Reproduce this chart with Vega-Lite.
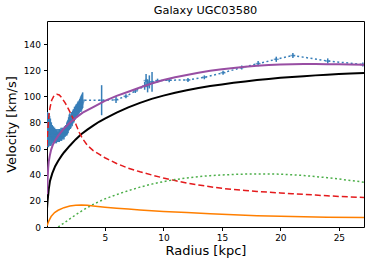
{
  "$schema": "https://vega.github.io/schema/vega-lite/v6.json",
  "autosize": {"type": "none"},
  "width": 317,
  "height": 206,
  "padding": {"left": 47, "top": 21, "right": 10, "bottom": 39},
  "background": "white",
  "title": {"text": "Galaxy UGC03580", "font": "DejaVu Sans", "fontSize": 11.3, "fontWeight": "normal", "color": "#000", "offset": 5},
  "datasets": {
    "obs": [
      {"r": 0.06, "v": 74, "e": 13}, {"r": 0.09, "v": 79, "e": 9}, {"r": 0.12, "v": 76, "e": 11}, {"r": 0.15, "v": 80, "e": 7},
      {"r": 0.18, "v": 73, "e": 12}, {"r": 0.21, "v": 78, "e": 9}, {"r": 0.24, "v": 74, "e": 11}, {"r": 0.27, "v": 77, "e": 8},
      {"r": 0.3, "v": 72, "e": 10}, {"r": 0.34, "v": 75, "e": 8}, {"r": 0.38, "v": 71, "e": 9}, {"r": 0.42, "v": 73, "e": 7},
      {"r": 0.46, "v": 70, "e": 7}, {"r": 0.5, "v": 72, "e": 6}, {"r": 0.55, "v": 70, "e": 6}, {"r": 0.6, "v": 71, "e": 6},
      {"r": 0.65, "v": 69, "e": 5}, {"r": 0.7, "v": 71, "e": 5}, {"r": 0.75, "v": 69, "e": 5}, {"r": 0.8, "v": 70, "e": 5},
      {"r": 0.85, "v": 69, "e": 5}, {"r": 0.9, "v": 70, "e": 5}, {"r": 0.95, "v": 69, "e": 4}, {"r": 1.0, "v": 70, "e": 5},
      {"r": 1.05, "v": 69, "e": 4}, {"r": 1.1, "v": 70, "e": 5}, {"r": 1.15, "v": 71, "e": 4}, {"r": 1.2, "v": 70, "e": 4},
      {"r": 1.25, "v": 71, "e": 5}, {"r": 1.3, "v": 70, "e": 4}, {"r": 1.35, "v": 72, "e": 4}, {"r": 1.4, "v": 71, "e": 4},
      {"r": 1.45, "v": 72, "e": 4}, {"r": 1.5, "v": 71, "e": 4}, {"r": 1.55, "v": 73, "e": 4}, {"r": 1.6, "v": 73, "e": 4},
      {"r": 1.65, "v": 74, "e": 4}, {"r": 1.7, "v": 74, "e": 4}, {"r": 1.75, "v": 75, "e": 5}, {"r": 1.8, "v": 76, "e": 5},
      {"r": 1.85, "v": 77, "e": 5}, {"r": 1.9, "v": 79, "e": 5}, {"r": 1.95, "v": 80, "e": 6}, {"r": 2.0, "v": 81, "e": 6},
      {"r": 2.05, "v": 80, "e": 5}, {"r": 2.1, "v": 81, "e": 5}, {"r": 2.15, "v": 83, "e": 5}, {"r": 2.2, "v": 82, "e": 5},
      {"r": 2.25, "v": 84, "e": 5}, {"r": 2.3, "v": 85, "e": 5}, {"r": 2.35, "v": 85, "e": 5}, {"r": 2.4, "v": 87, "e": 5},
      {"r": 2.45, "v": 87, "e": 5}, {"r": 2.5, "v": 88, "e": 5}, {"r": 2.55, "v": 89, "e": 5}, {"r": 2.6, "v": 89, "e": 5},
      {"r": 2.65, "v": 90, "e": 5}, {"r": 2.7, "v": 91, "e": 5}, {"r": 2.75, "v": 91, "e": 5}, {"r": 2.8, "v": 92, "e": 5},
      {"r": 2.85, "v": 93, "e": 5}, {"r": 2.9, "v": 94, "e": 5}, {"r": 2.95, "v": 94, "e": 6}, {"r": 3.0, "v": 95, "e": 6},
      {"r": 3.05, "v": 96, "e": 6}, {"r": 3.1, "v": 97, "e": 6},
      {"r": 4.72, "v": 97, "e": 11.5}, {"r": 5.95, "v": 97.3, "e": 2.5}, {"r": 6.8, "v": 100, "e": 1.5},
      {"r": 7.6, "v": 104, "e": 1.5}, {"r": 8.4, "v": 108, "e": 3}, {"r": 8.52, "v": 112, "e": 5},
      {"r": 8.65, "v": 108, "e": 5}, {"r": 8.8, "v": 111, "e": 5}, {"r": 9.03, "v": 111, "e": 7.5},
      {"r": 9.5, "v": 112, "e": 1.5}, {"r": 10.5, "v": 112.3, "e": 1.5}, {"r": 12.1, "v": 112.5, "e": 1.5},
      {"r": 13.5, "v": 114.5, "e": 1.5}, {"r": 15.1, "v": 118, "e": 1.5}, {"r": 16.7, "v": 122, "e": 1.5},
      {"r": 18.1, "v": 125, "e": 2}, {"r": 19.65, "v": 128.3, "e": 2}, {"r": 21.07, "v": 131.2, "e": 2},
      {"r": 24.05, "v": 127, "e": 2}, {"r": 27.05, "v": 124.3, "e": 1.5}
    ],
    "halo": [
      {"r": 0.05, "v": 14}, {"r": 0.1, "v": 20}, {"r": 0.2, "v": 29}, {"r": 0.3, "v": 35}, {"r": 0.5, "v": 41},
      {"r": 0.75, "v": 46.5}, {"r": 1.0, "v": 50.5}, {"r": 1.3, "v": 54.6}, {"r": 1.5, "v": 57}, {"r": 2.0, "v": 62.2},
      {"r": 2.5, "v": 67}, {"r": 3.0, "v": 71.2}, {"r": 3.5, "v": 74.5}, {"r": 4.0, "v": 77.5}, {"r": 4.5, "v": 80.5},
      {"r": 5, "v": 83}, {"r": 6, "v": 87.5}, {"r": 7, "v": 91.5}, {"r": 8, "v": 95}, {"r": 9, "v": 98},
      {"r": 10, "v": 100.5}, {"r": 11, "v": 102.7}, {"r": 12, "v": 104.6}, {"r": 13, "v": 106.3}, {"r": 14, "v": 107.8},
      {"r": 15, "v": 109.1}, {"r": 16, "v": 110.3}, {"r": 17, "v": 111.4}, {"r": 18, "v": 112.4}, {"r": 19, "v": 113.3},
      {"r": 20, "v": 114.1}, {"r": 21, "v": 114.8}, {"r": 22, "v": 115.4}, {"r": 23, "v": 116}, {"r": 24, "v": 116.5},
      {"r": 25, "v": 117}, {"r": 26, "v": 117.4}, {"r": 27.15, "v": 117.8}
    ],
    "bulge": [
      {"r": 0.05, "v": 62}, {"r": 0.1, "v": 72}, {"r": 0.2, "v": 84}, {"r": 0.3, "v": 91}, {"r": 0.45, "v": 97},
      {"r": 0.65, "v": 100.5}, {"r": 0.9, "v": 101.5}, {"r": 1.1, "v": 101}, {"r": 1.3, "v": 99}, {"r": 1.6, "v": 95},
      {"r": 1.9, "v": 90}, {"r": 2.2, "v": 84.5}, {"r": 2.5, "v": 79}, {"r": 2.8, "v": 72.5}, {"r": 3.1, "v": 67.5},
      {"r": 3.5, "v": 62.5}, {"r": 4, "v": 58.5}, {"r": 4.5, "v": 55.7}, {"r": 5, "v": 53}, {"r": 6, "v": 48.6},
      {"r": 7, "v": 45}, {"r": 8, "v": 42.2}, {"r": 9, "v": 39.8}, {"r": 10, "v": 37.5}, {"r": 11, "v": 35.5},
      {"r": 12, "v": 33.6}, {"r": 13, "v": 32.2}, {"r": 14, "v": 30.8}, {"r": 15, "v": 29.6}, {"r": 16, "v": 28.7},
      {"r": 17, "v": 27.9}, {"r": 18, "v": 27.2}, {"r": 19, "v": 26.6}, {"r": 20, "v": 26.1}, {"r": 21, "v": 25.5},
      {"r": 22, "v": 25}, {"r": 23, "v": 24.4}, {"r": 24, "v": 23.9}, {"r": 25, "v": 23.4}, {"r": 26, "v": 23},
      {"r": 27.15, "v": 22.6}
    ],
    "disk": [
      {"r": 1.0, "v": 0}, {"r": 1.5, "v": 3}, {"r": 2, "v": 6.2}, {"r": 2.5, "v": 9.3}, {"r": 3, "v": 12.2},
      {"r": 3.5, "v": 14.8}, {"r": 4, "v": 17.3}, {"r": 4.5, "v": 19.5}, {"r": 5, "v": 21.5}, {"r": 6, "v": 24.8},
      {"r": 7, "v": 27.8}, {"r": 8, "v": 30.5}, {"r": 9, "v": 32.8}, {"r": 10, "v": 34.7}, {"r": 11, "v": 36.3},
      {"r": 12, "v": 37.5}, {"r": 13, "v": 38.5}, {"r": 14, "v": 39.3}, {"r": 15, "v": 39.8}, {"r": 16, "v": 40.2},
      {"r": 17, "v": 40.5}, {"r": 18, "v": 40.6}, {"r": 19, "v": 40.6}, {"r": 20, "v": 40.4}, {"r": 21, "v": 40},
      {"r": 22, "v": 39.4}, {"r": 23, "v": 38.6}, {"r": 24, "v": 37.7}, {"r": 25, "v": 36.7}, {"r": 26, "v": 35.6},
      {"r": 27.15, "v": 34.3}
    ],
    "gas": [
      {"r": 0.05, "v": 1}, {"r": 0.2, "v": 4.5}, {"r": 0.4, "v": 8}, {"r": 0.7, "v": 11}, {"r": 1.0, "v": 12.8},
      {"r": 1.5, "v": 14.8}, {"r": 2.0, "v": 16}, {"r": 2.5, "v": 16.6}, {"r": 3.0, "v": 16.8}, {"r": 3.5, "v": 16.6},
      {"r": 4, "v": 16.1}, {"r": 5, "v": 15.2}, {"r": 6, "v": 14.4}, {"r": 7, "v": 13.7}, {"r": 8, "v": 13},
      {"r": 9, "v": 12.4}, {"r": 10, "v": 11.9}, {"r": 12, "v": 11}, {"r": 14, "v": 10.1}, {"r": 16, "v": 9.4},
      {"r": 18, "v": 8.7}, {"r": 20, "v": 8.2}, {"r": 22, "v": 7.8}, {"r": 24, "v": 7.5}, {"r": 27.15, "v": 7.2}
    ],
    "total": [
      {"r": 0.05, "v": 25}, {"r": 0.1, "v": 36}, {"r": 0.15, "v": 45}, {"r": 0.2, "v": 50}, {"r": 0.29, "v": 54.6},
      {"r": 0.4, "v": 59}, {"r": 0.57, "v": 63.4}, {"r": 0.8, "v": 67}, {"r": 1.0, "v": 69.7}, {"r": 1.43, "v": 74.7},
      {"r": 2.0, "v": 79.7}, {"r": 2.5, "v": 83.5}, {"r": 3.1, "v": 87.5}, {"r": 4, "v": 91.8}, {"r": 5, "v": 96.5},
      {"r": 6, "v": 100.3}, {"r": 7, "v": 103.5}, {"r": 8, "v": 106.7}, {"r": 9, "v": 109.8}, {"r": 10, "v": 112.4},
      {"r": 11, "v": 114.5}, {"r": 12, "v": 116.3}, {"r": 13, "v": 118}, {"r": 14, "v": 119.5}, {"r": 15, "v": 120.6},
      {"r": 16, "v": 121.7}, {"r": 17, "v": 122.6}, {"r": 18, "v": 123.3}, {"r": 19, "v": 123.9}, {"r": 20, "v": 124.3},
      {"r": 21, "v": 124.6}, {"r": 22, "v": 124.7}, {"r": 23, "v": 124.7}, {"r": 24, "v": 124.6}, {"r": 25, "v": 124.5},
      {"r": 26, "v": 124.4}, {"r": 27.15, "v": 124.2}
    ]
  },
  "encoding": {
    "x": {"field": "r", "type": "quantitative", "scale": {"domain": [0.05, 27.15], "nice": false, "zero": false},
      "axis": {"values": [5, 10, 15, 20, 25], "title": "Radius [kpc]", "titlePadding": 2}},
    "y": {"field": "v", "type": "quantitative", "scale": {"domain": [0, 157.6], "nice": false},
      "axis": {"values": [0, 20, 40, 60, 80, 100, 120, 140], "title": "Velocity [km/s]", "titlePadding": 5}}
  },
  "layer": [
    {"data": {"name": "obs"}, "mark": {"type": "line", "color": "#377eb8", "strokeWidth": 1.5, "strokeDash": [2, 2.5], "clip": true}},
    {"data": {"name": "obs"}, "mark": {"type": "errorbar", "color": "#377eb8", "thickness": 1.5, "clip": true},
      "encoding": {"yError": {"field": "e"}}},
    {"data": {"name": "obs"}, "mark": {"type": "tick", "orient": "horizontal", "color": "#377eb8", "size": 5, "thickness": 1.5, "clip": true}},
    {"data": {"name": "halo"}, "mark": {"type": "line", "color": "#000000", "strokeWidth": 2, "clip": true}},
    {"data": {"name": "bulge"}, "mark": {"type": "line", "color": "#e41a1c", "strokeWidth": 1.5, "strokeDash": [6, 3], "clip": true}},
    {"data": {"name": "disk"}, "mark": {"type": "line", "color": "#4daf4a", "strokeWidth": 1.5, "strokeDash": [2, 2.5], "clip": true}},
    {"data": {"name": "gas"}, "mark": {"type": "line", "color": "#ff7f00", "strokeWidth": 1.5, "clip": true}},
    {"data": {"name": "total"}, "mark": {"type": "line", "color": "#984ea3", "strokeWidth": 2, "clip": true}}
  ],
  "config": {
    "view": {"stroke": "#000", "strokeWidth": 1},
    "axis": {"grid": false, "domain": false, "tickColor": "#000", "tickSize": 3.5, "tickWidth": 1,
      "labelFont": "DejaVu Sans", "labelFontSize": 9, "labelColor": "#000", "labelPadding": 3,
      "titleFont": "DejaVu Sans", "titleFontSize": 13, "titleFontWeight": "normal", "titleColor": "#000"}
  }
}
